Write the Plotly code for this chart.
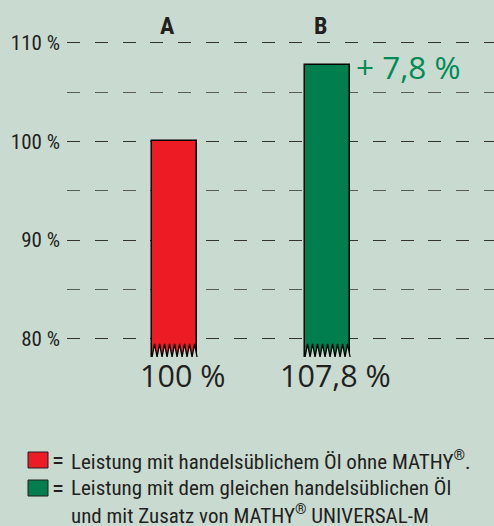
import numpy as np
import plotly.graph_objects as go

# ---- data ----
categories = ["A", "B"]
values = [100.0, 107.8]
value_labels = ["100 %", "107,8 %"]
diff_label = "+ 7,8 %"
bar_colors = ["#ec1c24", "#007e4e"]
ytick_vals = [80, 90, 100, 110]
ytick_text = ["80 %", "90 %", "100 %", "110 %"]
legend_lines = [
    "Leistung mit handelsüblichem Öl ohne MATHY<sup>®</sup>.",
    "Leistung mit dem gleichen handelsüblichen Öl",
    "und mit Zusatz von MATHY<sup>®</sup> UNIVERSAL-M",
]

# ---- style ----
BG = "#c9dbd0"
COND = "Roboto Condensed, DejaVu Sans Condensed, sans-serif"
REG = "Open Sans, Liberation Sans, sans-serif"
TXT = "#231f20"
x_pos = [0, 1]
bar_w = 0.294
base = 78.13        # axis break (bottom of the zigzag)
teeth_top = 79.45   # height of the zigzag teeth
n_teeth = 9

W, H = 494, 526
ML, MR, MT, MB = 67, 0, 33, 148

fig = go.Figure()

for i, cat in enumerate(categories):
    xc = x_pos[i]
    fig.add_trace(go.Bar(
        x=[xc], y=[values[i] - base], base=[base], width=bar_w,
        marker=dict(color=bar_colors[i], line=dict(color="black", width=1.5)),
        showlegend=False, hoverinfo="skip", name=cat,
    ))
    # zigzag break at the bottom of the bar
    zx = np.linspace(xc - bar_w / 2, xc + bar_w / 2, 2 * n_teeth + 1)
    zy = np.array([base if k % 2 == 0 else teeth_top for k in range(2 * n_teeth + 1)])
    fx = list(zx) + [xc + bar_w / 2 + 0.01, xc - bar_w / 2 - 0.01]
    fy = list(zy) + [base - 0.6, base - 0.6]
    fig.add_trace(go.Scatter(
        x=fx, y=fy, fill="toself", fillcolor=BG, mode="lines",
        line=dict(width=0, color=BG), showlegend=False, hoverinfo="skip",
    ))
    fig.add_trace(go.Scatter(
        x=zx, y=zy, mode="lines", line=dict(color="black", width=1.3),
        showlegend=False, hoverinfo="skip",
    ))
    # category label on top
    fig.add_annotation(
        x=xc, y=1, xref="x", yref="paper", yanchor="bottom", yshift=-9, xshift=-7,
        text=f"<b>{cat}</b>", showarrow=False,
        font=dict(family=COND, size=24, color=TXT),
    )
    # value label below
    fig.add_annotation(
        x=xc, y=0, xref="x", yref="paper", yanchor="middle", yshift=3, xshift=8,
        text=value_labels[i], showarrow=False,
        font=dict(family=REG, size=30.5, color=TXT),
    )

# difference label
fig.add_annotation(
    x=x_pos[1] + bar_w / 2, y=values[1], xref="x", yref="y",
    xanchor="left", yanchor="middle", xshift=4, yshift=-2,
    text=diff_label, showarrow=False,
    font=dict(family=REG, size=31.5, color="#008a55"),
)

# legend (text + colour squares)
row_y = [-82, -110, -136]  # pixel offsets from plot bottom (row centres)
for k, line in enumerate(legend_lines):
    fig.add_annotation(
        x=0, y=0, xref="paper", yref="paper", xanchor="left", yanchor="middle",
        xshift=71 - ML - 1, yshift=row_y[k], borderpad=0,
        text=line, showarrow=False,
        font=dict(family=COND, size=21, color=TXT),
    )
for k in range(2):
    fig.add_annotation(
        x=0, y=0, xref="paper", yref="paper", xanchor="left", yanchor="middle",
        xshift=51 - ML, yshift=row_y[k], borderpad=0,
        text="=", showarrow=False,
        font=dict(family=COND, size=25, color=TXT),
    )
    fig.add_shape(
        type="rect", xref="paper", yref="paper", xsizemode="pixel", ysizemode="pixel",
        xanchor=0, yanchor=0,
        x0=28 - ML, x1=48 - ML, y0=row_y[k] - 8, y1=row_y[k] + 8,
        fillcolor=bar_colors[k], line=dict(color=TXT, width=1),
    )

fig.update_layout(
    width=W, height=H,
    margin=dict(l=ML, r=MR, t=MT, b=MB, pad=0),
    paper_bgcolor=BG, plot_bgcolor=BG,
    bargap=0, showlegend=False,
    xaxis=dict(range=[-0.703, -0.703 + 427 / 153], showgrid=False, zeroline=False,
               showticklabels=False, showline=False, ticks=""),
    yaxis=dict(range=[76, 111], tickvals=ytick_vals, ticktext=ytick_text,
               showgrid=True, gridcolor="#333333", gridwidth=1.2,
               griddash="13px,14.8px", zeroline=False, showline=False, ticks="",
               ticklabelstandoff=6,
               tickfont=dict(family=COND, size=21, color=TXT),
               minor=dict(tickvals=[85, 95, 105], showgrid=True, gridcolor="#5a5a5a",
                          gridwidth=1.2, griddash="13px,14.8px")),
)

fig.write_html("out.html", config={"displayModeBar": False},
               post_script="document.body.style.margin='0';")
